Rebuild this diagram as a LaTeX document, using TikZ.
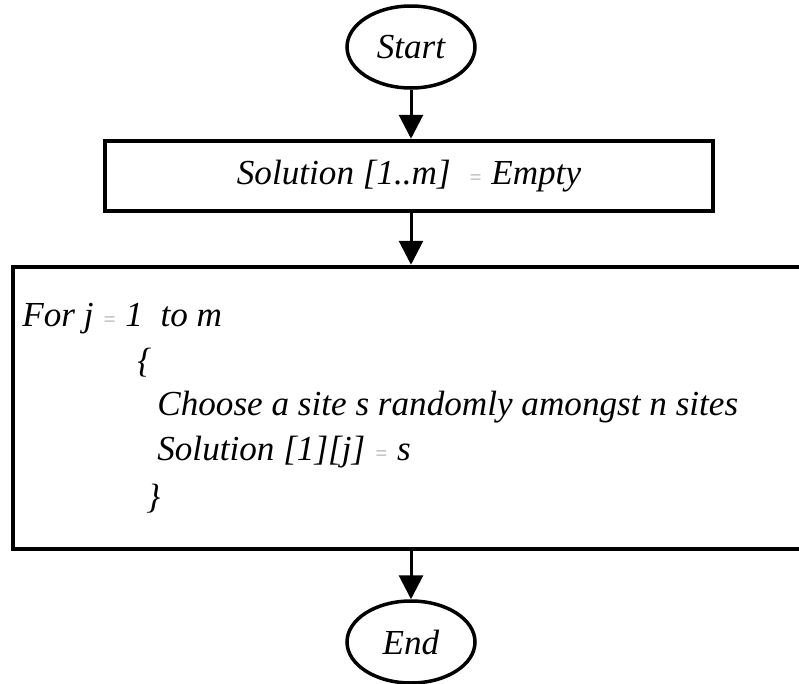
\documentclass[tikz,border=0pt]{standalone}
\usepackage{fontspec}
\setmainfont{Liberation Serif}
\usepackage{tikz}
\usetikzlibrary{shapes.geometric,arrows.meta}
\definecolor{eqgray}{HTML}{A8A8A8}
\newcommand{\eqsign}{{\color{eqgray}\fontsize{12}{14}\selectfont=}}

\begin{document}
\begin{tikzpicture}[every node/.style={font=\fontsize{20}{23}\selectfont\itshape},
  term/.style={draw, ellipse, line width=0.07cm, minimum width=2.56cm, minimum height=1.64cm, inner sep=0pt},
  proc/.style={draw, rectangle, line width=0.09cm, inner sep=0pt},
  line/.style={anchor=west, inner sep=0pt},
  flow/.style={line width=0.06cm, -{Triangle[length=0.48cm, width=0.48cm]}}]

  \useasboundingbox (0,0) rectangle (15.98,-13.68);
  \clip (0,0) rectangle (15.98,-13.68);

  % terminals and boxes
  \node[term] (start) at (8.22,-0.94) {Start};
  \node[proc, minimum width=12.16cm, minimum height=1.4cm] (init) at (8.18,-3.52)
    {Solution [1..m] \ \eqsign\ Empty};
  \node[proc, minimum width=16.14cm, minimum height=5.64cm] (loop) at (8.33,-8.16) {};
  \node[term] (finish) at (8.22,-12.84) {End};

  % loop body, one line each
  \node[line] (forline) at (0.44,-6.38) {For j \eqsign\ 1 \ to m};
  \node[line] (open) at (2.74,-7.26) {\{};
  \node[line] (choose) at (3.14,-8.14) {Choose a site s randomly amongst n sites};
  \node[line] (assign) at (3.14,-9.04) {Solution [1][j] \eqsign\ s};
  \node[line] (close) at (2.92,-9.98) {\}};

  % connectors
  \draw[flow] (start.south) -- (start.south |- init.north);
  \draw[flow] (start.south |- init.south) -- (start.south |- loop.north);
  \draw[flow] (start.south |- loop.south) -- (finish.north);

\end{tikzpicture}
\end{document}
